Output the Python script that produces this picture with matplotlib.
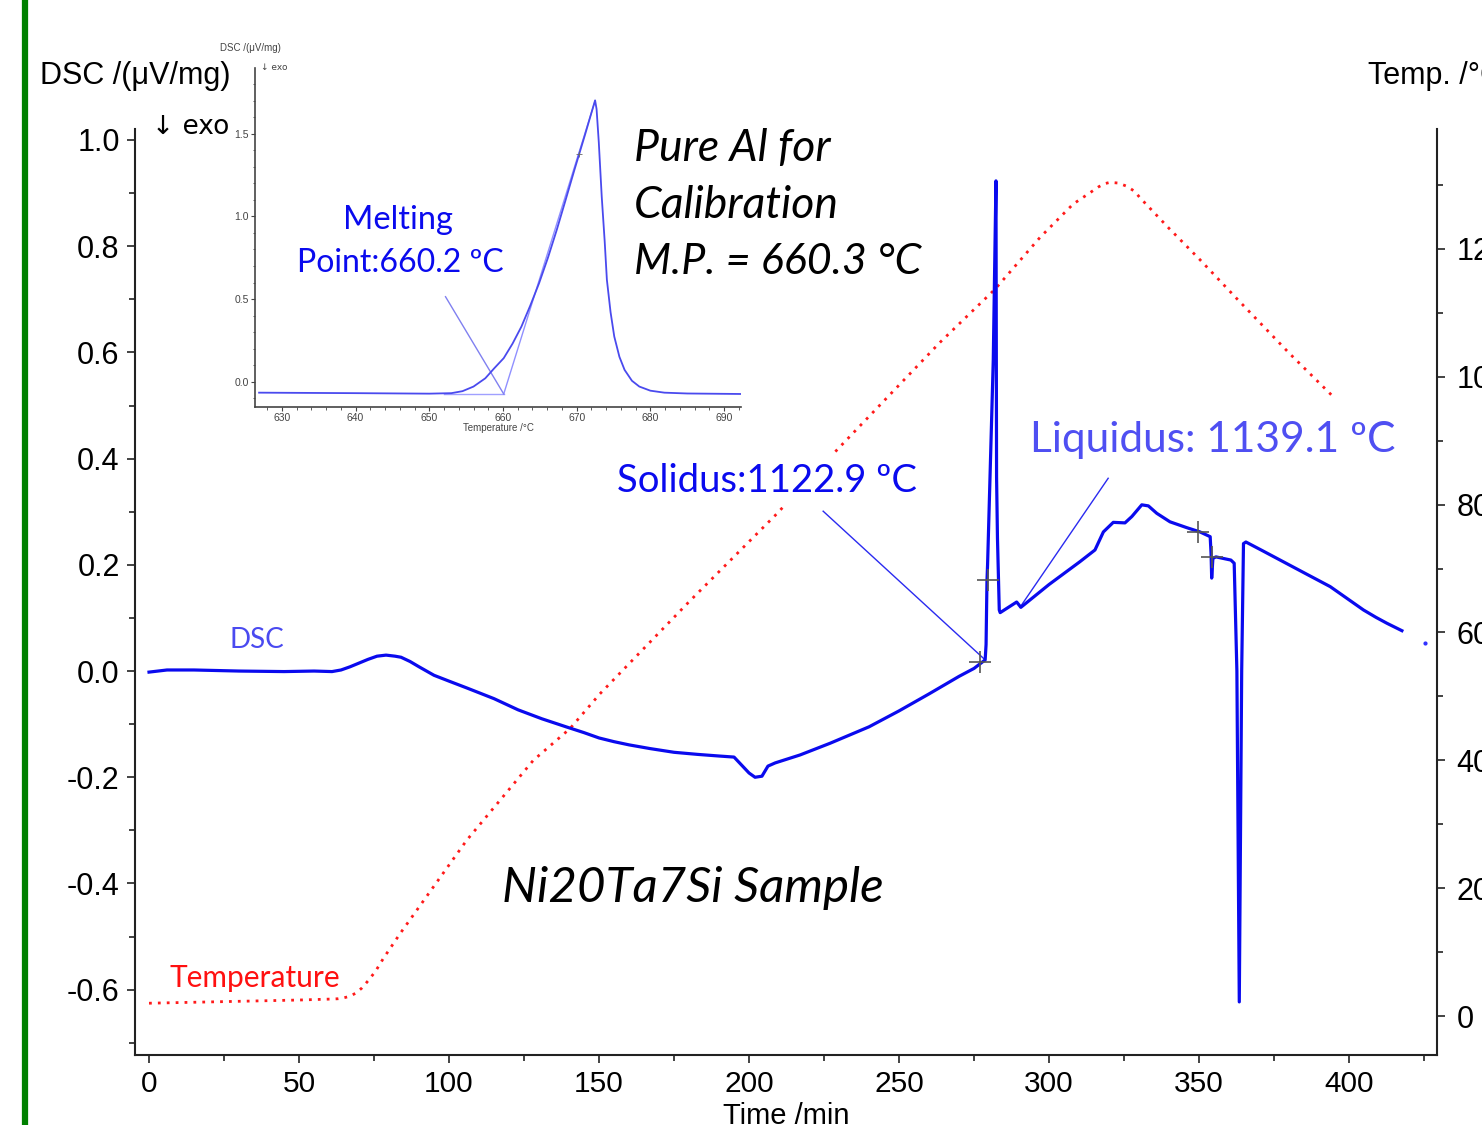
import matplotlib
matplotlib.use('Agg')
import matplotlib.pyplot as plt
from matplotlib.lines import Line2D
from matplotlib.ticker import MultipleLocator, FuncFormatter

# ---- main DSC trace (time /min, DSC /(uV/mg)) ----
dsc_time = [0, 3, 6, 15, 30, 45, 55, 61, 64, 67, 70, 73, 76, 79, 82, 84, 87, 90,
            95, 100, 106, 115, 123, 131, 139, 145, 150, 155, 160, 167, 175, 183,
            190, 195, 197.5, 200, 202, 204.3, 206.3, 208.7, 217, 227, 240, 250,
            260, 270, 275, 278.7, 279.0, 279.3, 279.5, 279.7, 281.4, 282.3, 282.5,
            282.8, 283.4, 283.7, 287, 289.2, 290.6, 300, 310.3, 315.3, 318.1,
            321.4, 325.3, 327.6, 330.9, 333.1, 335.9, 340.3, 345.9, 350.3, 353.7,
            354.0, 354.2, 354.6, 355.6, 360.6, 361.7, 362.6, 363.4, 364.2, 364.8,
            365.6, 371, 377, 385, 393.7, 399, 404.8, 409, 412.6, 417.6]
dsc_value = [-0.002, 0.0, 0.002, 0.002, 0.0, -0.001, 0.0, -0.001, 0.002, 0.008,
             0.015, 0.022, 0.028, 0.030, 0.028, 0.026, 0.018, 0.008, -0.008,
             -0.019, -0.032, -0.052, -0.073, -0.09, -0.105, -0.116, -0.126,
             -0.133, -0.139, -0.146, -0.153, -0.157, -0.160, -0.162, -0.177,
             -0.192, -0.200, -0.198, -0.179, -0.173, -0.158, -0.136, -0.105,
             -0.075, -0.043, -0.010, 0.005, 0.021, 0.05, 0.17, 0.20, 0.24, 0.586,
             0.923, 0.365, 0.25, 0.115, 0.110, 0.122, 0.130, 0.120, 0.163, 0.206,
             0.228, 0.262, 0.280, 0.279, 0.291, 0.313, 0.311, 0.297, 0.281, 0.270,
             0.262, 0.253, 0.22, 0.175, 0.212, 0.215, 0.209, 0.203, 0.0, -0.623,
             0.0, 0.240, 0.243, 0.227, 0.209, 0.185, 0.159, 0.138, 0.115, 0.101,
             0.090, 0.076]

# ---- furnace temperature (time /min, Temp /C) ----
temp_time = [0, 10, 30, 50, 61.4, 63, 65, 67, 69, 71, 73, 75.5, 78.1, 83.7, 94.8,
             105.9, 117, 128.1, 140.3, 150.3, 180, 208.7, 229.4, 263.7, 282, 297,
             308, 313.7, 316.5, 318.5, 320.3, 323, 325.9, 328.5, 330.3, 340, 350.3,
             362.6, 380, 395.3]
temp_value = [20, 21, 23, 25, 26.6, 27, 28.5, 31, 36, 44, 55, 70, 90, 129, 202,
              275, 337.5, 400, 449.5, 504, 648, 783, 886, 1054, 1137, 1218, 1270,
              1288, 1297, 1302, 1304, 1303, 1298, 1290, 1280, 1232, 1183, 1122,
              1037, 966]

# characteristic-point markers and leader lines
cross_time = [277, 279.7, 349.7, 354.3]
cross_value = [0.017, 0.171, 0.262, 0.215]
solidus_lead_t = [224.7, 278.7]
solidus_lead_v = [0.301, 0.021]
liquidus_lead_t = [319.7, 290.3]
liquidus_lead_v = [0.363, 0.120]

# ---- inset: pure Al calibration (Temperature /C, DSC) ----
al_temp = [626.9, 640, 650, 653, 654.5, 656, 657.6, 658.8, 660.1, 661.3, 662.5,
           663.7, 664.9, 666.1, 667.3, 668.5, 669.7, 671.1, 672.5, 672.7, 673.0,
           673.4, 673.8, 674.1, 674.6, 675.1, 675.8, 676.5, 677.5, 678.5, 680,
           681.9, 685, 692.3]
al_dsc = [-0.067, -0.070, -0.073, -0.070, -0.058, -0.030, 0.020, 0.080, 0.142,
          0.230, 0.333, 0.460, 0.596, 0.750, 0.919, 1.100, 1.283, 1.490, 1.703,
          1.650, 1.450, 1.120, 0.850, 0.616, 0.420, 0.273, 0.150, 0.071, 0.005,
          -0.030, -0.055, -0.067, -0.072, -0.075]
al_base_t = [652.0, 660.1]
al_base_v = [-0.075, -0.075]
al_tangent_t = [660.1, 672.5]
al_tangent_v = [-0.075, 1.70]
al_lead_t = [652.2, 660.1]
al_lead_v = [0.514, -0.075]
al_cross = (670.3, 1.38)

W, H = 1482, 1125
plt.rcParams['font.family'] = ['Liberation Sans', 'DejaVu Sans']

fig = plt.figure(figsize=(W / 100, H / 100), dpi=100)


def fx(x):
    return x / W


def fy(y):
    return 1 - y / H


def label(x, y, s, size, color='black', style='normal', family='Lato', ha='left',
          box=False):
    kw = {}
    if box:
        kw['bbox'] = dict(facecolor='white', edgecolor='none', pad=6)
    fig.text(fx(x), fy(y), s, fontsize=size, color=color, style=style,
             family=[family, 'DejaVu Sans'], ha=ha, va='center', **kw)


ax = fig.add_axes([fx(135), fy(1055), (1437 - 135) / W, (1055 - 129) / H])
ax.set_xlim(-4.67, 429.3)
ax.set_ylim(-0.723, 1.0207)
for s in ('top', 'right'):
    ax.spines[s].set_visible(False)
for s in ('left', 'bottom'):
    ax.spines[s].set_linewidth(1.5)
    ax.spines[s].set_color('#222222')
ax.xaxis.set_major_locator(MultipleLocator(50))
ax.xaxis.set_minor_locator(MultipleLocator(25))
ax.yaxis.set_major_locator(MultipleLocator(0.2))
ax.yaxis.set_minor_locator(MultipleLocator(0.1))
ax.yaxis.set_major_formatter(FuncFormatter(lambda v, p: f'{v:.1f}'))
ax.tick_params(which='major', length=6, width=1.2, color='#222222')
ax.tick_params(axis='y', labelsize=22, pad=5)
ax.tick_params(axis='x', labelsize=21.5, pad=5)
ax.tick_params(which='minor', length=4, width=1.2, color='#222222')
ax.set_xlabel('Time /min', fontsize=21, labelpad=3)

ax2 = ax.twinx()
ax2.set_ylim(-61, 1387.5)
for s in ('top', 'left', 'bottom'):
    ax2.spines[s].set_visible(False)
ax2.spines['right'].set_linewidth(1.5)
ax2.spines['right'].set_color('#222222')
ax2.yaxis.set_major_locator(MultipleLocator(200))
ax2.yaxis.set_minor_locator(MultipleLocator(100))
ax2.tick_params(which='major', length=6, width=1.2, labelsize=22, color='#222222', pad=8)
ax2.tick_params(which='minor', length=4, width=1.2, color='#222222')

ax2.plot(temp_time, temp_value, color='#ff1a1a', lw=2.0,
         linestyle=(0, (1, 2.2)), zorder=2)
ax.set_zorder(ax2.get_zorder() + 1)
ax.patch.set_visible(False)

ax.plot(solidus_lead_t, solidus_lead_v, color='#2a2af0', lw=1.0)
ax.plot(liquidus_lead_t, liquidus_lead_v, color='#2a2af0', lw=1.0)
ax.plot(dsc_time, dsc_value, color='#0a0aee', lw=2.3, solid_joinstyle='round')
ax.plot(cross_time, cross_value, ls='none', marker='+', ms=16, mew=1.2,
        color='#555555')
ax.plot([425.3], [0.053], ls='none', marker='o', ms=2, color='#3030ff')

# ---- inset ----
axi = fig.add_axes([fx(255.4), fy(406.7), (741 - 255.4) / W, (406.7 - 68.3) / H])
axi.set_xlim(626.4, 692.3)
axi.set_ylim(-0.152, 1.897)
for s in ('top', 'right'):
    axi.spines[s].set_visible(False)
for s in ('left', 'bottom'):
    axi.spines[s].set_linewidth(1.2)
    axi.spines[s].set_color('#444444')
axi.patch.set_visible(False)
axi.xaxis.set_major_locator(MultipleLocator(10))
axi.xaxis.set_minor_locator(MultipleLocator(2))
axi.yaxis.set_major_locator(MultipleLocator(0.5))
axi.yaxis.set_minor_locator(MultipleLocator(0.1))
axi.tick_params(which='major', length=3, width=0.8, labelsize=7.5,
                colors='#444444', pad=1.5)
axi.tick_params(which='minor', length=1.8, width=0.6, color='#444444')
axi.set_xlabel('Temperature /°C', fontsize=7, color='#444444', labelpad=0)
axi.plot(al_base_t, al_base_v, color='#a0a0ff', lw=1.0)
axi.plot(al_tangent_t, al_tangent_v, color='#9090ff', lw=1.0)
axi.plot(al_lead_t, al_lead_v, color='#8080f0', lw=1.0)
axi.plot(al_temp, al_dsc, color='#4a4aee', lw=1.3)
axi.plot([al_cross[0]], [al_cross[1]], ls='none', marker='+', ms=5, mew=0.6,
         color='#666666')

# ---- axis titles and annotations ----
label(40, 76, 'DSC /(μV/mg)', 22, family='Liberation Sans')
label(152, 127, '↓ exo', 19, family='DejaVu Sans')
label(1368, 76, 'Temp. /°C', 22, family='Liberation Sans')
label(220, 48, 'DSC /(μV/mg)', 7, color='#444444', family='Liberation Sans')
label(261, 67, '↓ exo', 6.5, color='#444444', family='DejaVu Sans')

label(230, 640, 'DSC', 20, color='#4a4af0')
label(170, 978, 'Temperature', 21.5, color='#ff1010')
label(502, 888, 'Ni20Ta7Si Sample', 35.5, style='italic')
label(617, 481, 'Solidus:1122.9 ºC', 27.5, color='#0a0aee', box=True)
label(1030, 440, 'Liquidus: 1139.1 ºC', 30.5, color='#4f4ff2')
label(634, 148, 'Pure Al for', 32, style='italic')
label(634, 205, 'Calibration', 32, style='italic')
label(634, 262, 'M.P. = 660.3 °C', 31, style='italic')
label(398, 220, 'Melting', 23.5, color='#0a0aee', ha='center')
label(297, 263, 'Point:660.2 ºC', 23, color='#0a0aee')

# green frame edge on the left
fig.add_artist(Line2D([fx(25), fx(25)], [0, 1], color='#008000', lw=4.5))

fig.savefig('out.png', dpi=100)
